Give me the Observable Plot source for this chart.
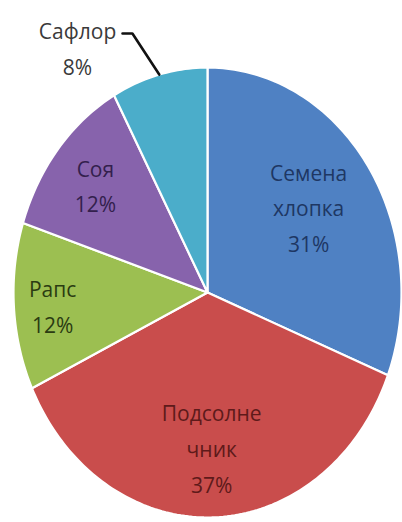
<!DOCTYPE html>
<html>
<head>
<meta charset="utf-8">
<script src="https://cdn.jsdelivr.net/npm/d3@7"></script>
<script src="https://cdn.jsdelivr.net/npm/@observablehq/plot@0.6"></script>
<style>
  html, body { margin: 0; padding: 0; background: #ffffff; }
  #chart svg { display: block; }
</style>
</head>
<body>
<div id="chart"></div>
<script>
// ---- data ----
const categories = ["Семена хлопка", "Подсолнечник", "Рапс", "Соя", "Сафлор"];
const values = [31, 37, 12, 12, 8];
const labelText = ["Семена\nхлопка", "Подсолне\nчник", "Рапс", "Соя", "Сафлор"];

// ---- style / layout ----
const colors = ["#4f81c3", "#c94d4c", "#9cbf51", "#8763ac", "#4badca"];
const textColors = ["#1e3763", "#5e1a1a", "#2b3b12", "#33204c", "#3a3a3a"];
const labelRadius = [0.63, 0.69, 0.80, 0.75, null]; // null => outside label
const labelDy = [-8, -2, 0, -2, 0];
const outsideLabel = {x: -0.67, y: 1.098, elbow: [-0.387, 1.151], end: [-0.438, 1.151]};

const pie = d3.pie().sort(null).value(d => d)(values);

// slice polygons in normalized space (angle measured clockwise from top)
const slices = pie.map((p, i) => {
  const pts = [{x: 0, y: 0}];
  const steps = Math.max(8, Math.ceil((p.endAngle - p.startAngle) / 0.02));
  for (let k = 0; k <= steps; k++) {
    const a = p.startAngle + (p.endAngle - p.startAngle) * k / steps;
    pts.push({x: Math.sin(a), y: Math.cos(a)});
  }
  pts.push({x: 0, y: 0});
  return pts;
});

const total = d3.sum(values);
const labels = pie.map((p, i) => {
  const mid = (p.startAngle + p.endAngle) / 2;
  const pct = Math.round(values[i] / total * 100) + "%";
  const r = labelRadius[i];
  const pos = r == null ? {x: outsideLabel.x, y: outsideLabel.y}
                        : {x: r * Math.sin(mid), y: r * Math.cos(mid)};
  return {...pos, text: labelText[i] + "\n" + pct, color: textColors[i], mid, category: categories[i]};
});

// leader line for the outside label
const outIdx = labelRadius.findIndex(r => r == null);
const outMid = labels[outIdx].mid;
const leader = [
  {x: Math.sin(outMid), y: Math.cos(outMid)},
  {x: outsideLabel.elbow[0], y: outsideLabel.elbow[1]},
  {x: outsideLabel.end[0], y: outsideLabel.end[1]}
];

const chart = Plot.plot({
  width: 402,
  height: 522,
  margin: 0,
  style: {fontFamily: "'Open Sans', sans-serif", background: "#ffffff"},
  x: {domain: [-1, 1], range: [13, 401], axis: null},
  y: {domain: [-1, 1], range: [517, 67], axis: null},
  marks: [
    ...slices.map((pts, i) => Plot.line(pts, {
      x: "x", y: "y", fill: colors[i], stroke: "#ffffff", strokeWidth: 2.2,
      strokeLinejoin: "round", curve: "linear"
    })),
    Plot.line(leader, {x: "x", y: "y", stroke: "#111111", strokeWidth: 2.6, strokeLinejoin: "miter"}),
    ...labels.map((d, i) => Plot.text([d], {
      x: "x", y: "y", text: "text", fill: d.color, dy: labelDy[i],
      fontSize: 21, lineHeight: 1.7, textAnchor: "middle", lineAnchor: "middle"
    }))
  ]
});

document.getElementById("chart").appendChild(chart);
</script>
</body>
</html>
